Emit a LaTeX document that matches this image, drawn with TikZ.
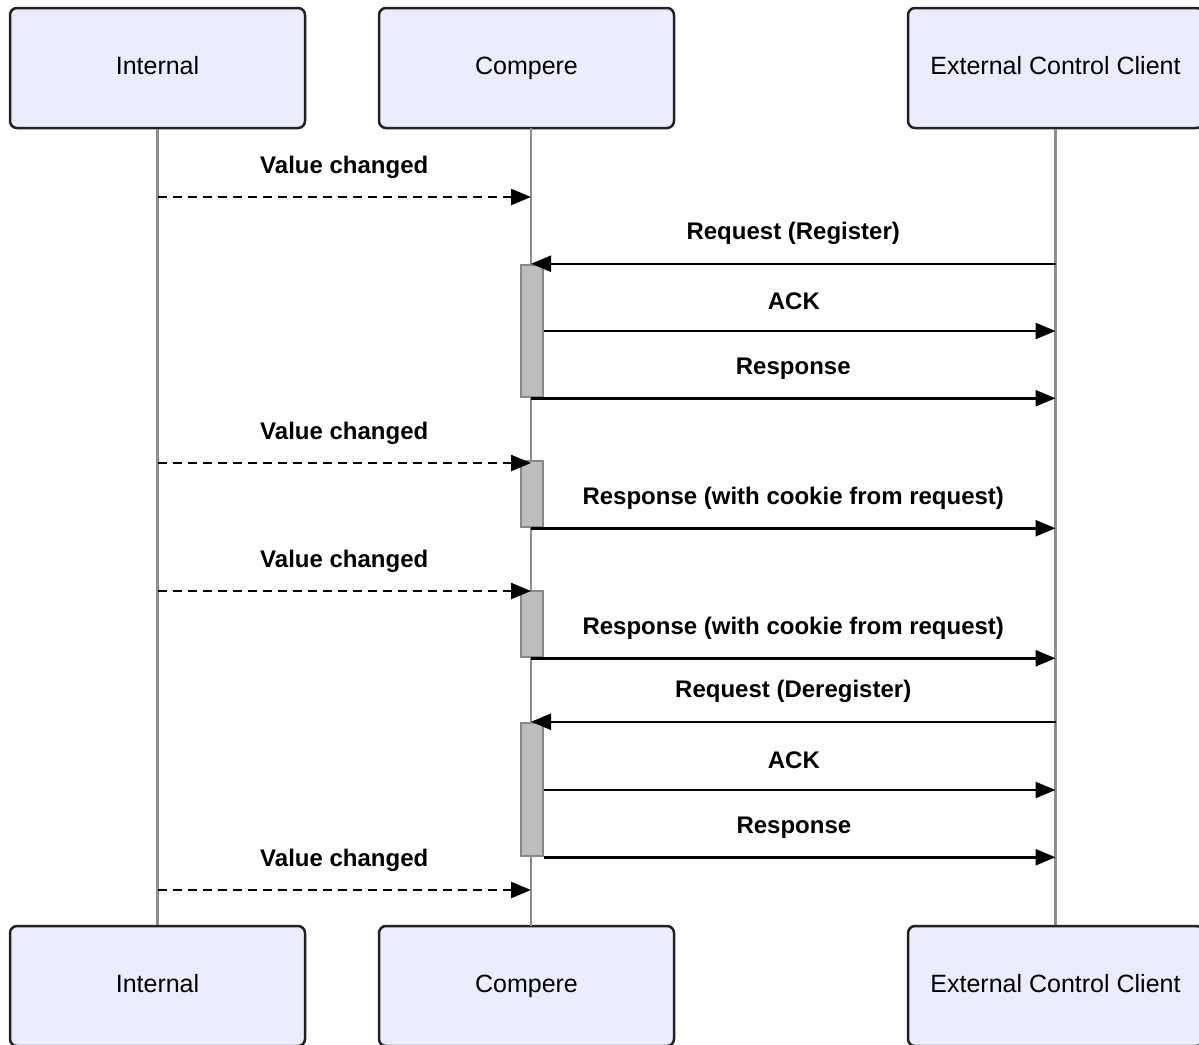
\documentclass[tikz,border=0pt]{standalone}
\usepackage{fontspec}
\setmainfont{Liberation Sans}
\usetikzlibrary{arrows.meta}
\definecolor{actorfill}{HTML}{ECECFF}
\definecolor{actorline}{HTML}{222222}
\definecolor{lifegray}{HTML}{8C8C8C}
\definecolor{barfill}{HTML}{BDBDBD}
\definecolor{barline}{HTML}{888888}

\tikzset{
  actor/.style={draw=actorline, fill=actorfill, line width=2.5pt, rounded corners=7pt,
    minimum width=295pt, minimum height=120pt, text height=18pt, text depth=5pt,
    font=\fontsize{25}{30}\selectfont},
  life/.style={draw=lifegray, line width=2.5pt},
  bar/.style={draw=barline, fill=barfill, line width=2.5pt, minimum width=22pt, inner sep=0pt},
  msg/.style={line width=2.5pt, -{Triangle[length=20pt,width=16pt]}},
  async/.style={msg, dash pattern=on 9pt off 6pt},
  lbl/.style={font=\bfseries\fontsize{24}{28}\selectfont, midway, yshift=30pt},
}

\begin{document}
\begin{tikzpicture}[x=1pt, y=-1pt]
    \useasboundingbox (0,0) rectangle (1199,1044);
    \node[actor] (int) at (157.5,68) {Internal};
    \node[actor] (cmp) at (526.5,68) {Compere};
    \node[actor] (ecc) at (1055.5,68) {External Control Client};
    \node[actor] (int2) at (157.5,986) {Internal};
    \node[actor] (cmp2) at (526.5,986) {Compere};
    \node[actor] (ecc2) at (1055.5,986) {External Control Client};
    \coordinate (cl) at (531,128);
    \coordinate (cl2) at (531,926);
    \draw[life] (int.south) -- (int2.north);
    \draw[life] (cl) -- (cl2);
    \draw[life] (ecc.south) -- (ecc2.north);
    \node[bar, minimum height=132pt] (act1) at (532,331) {}; %REGISTER
    \node[bar, minimum height=66pt] (act2) at (532,494) {};
    \node[bar, minimum height=66pt] (act3) at (532,624) {};
    \node[bar, minimum height=133pt] (act4) at (532,789.5) {}; %DEREGISTER
    \foreach \y in {197,463,591,890}
        \draw[async] (int.south |- 0,\y) -- (cl |- 0,\y) node[lbl] {Value changed};
    \draw[msg] (ecc.south |- act1.north) -- (cl |- act1.north) node[lbl] {Request (Register)};
    \draw[msg] (act1.east |- 0,331) -- (ecc.south |- 0,331) node[lbl, xshift=-6pt] {ACK};
    \draw[msg] (cl |- act1.south) -- (ecc.south |- act1.south) node[lbl] {Response};
    \draw[msg] (cl |- act2.south) -- (ecc.south |- act2.south) node[lbl] {Response (with cookie from request)};
    \draw[msg] (cl |- act3.south) -- (ecc.south |- act3.south) node[lbl] {Response (with cookie from request)};
    \draw[msg] (ecc.south |- act4.north) -- (cl |- act4.north) node[lbl] {Request (Deregister)};
    \draw[msg] (act4.east |- 0,790) -- (ecc.south |- 0,790) node[lbl, xshift=-6pt] {ACK};
    \draw[msg] (act4.east |- act4.south) -- (ecc.south |- act4.south) node[lbl, xshift=-6pt] {Response};
\end{tikzpicture}
\end{document}
